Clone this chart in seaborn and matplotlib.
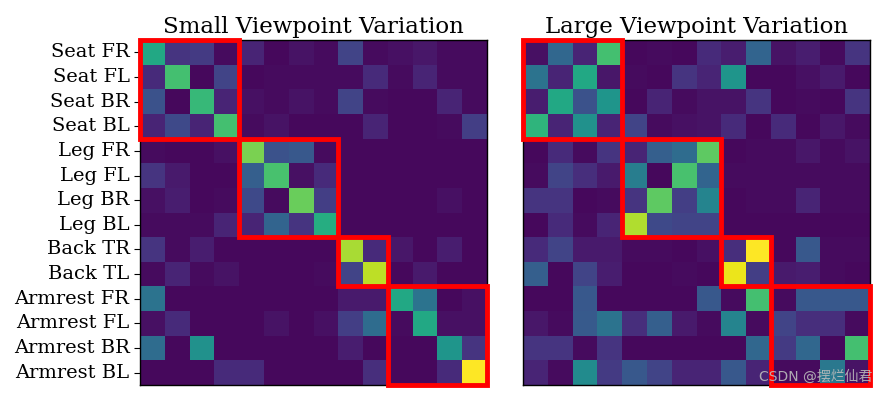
import numpy as np
import pandas as pd
import seaborn as sns
import matplotlib
matplotlib.use("Agg")
import matplotlib.pyplot as plt
from matplotlib.patches import Rectangle

labels = ["Seat FR", "Seat FL", "Seat BR", "Seat BL",
          "Leg FR", "Leg FL", "Leg BR", "Leg BL",
          "Back TR", "Back TL",
          "Armrest FR", "Armrest FL", "Armrest BR", "Armrest BL"]

titles = ["Small Viewpoint Variation", "Large Viewpoint Variation"]

# block sizes of the red boxes (start, size)
blocks = [(0, 4), (4, 4), (8, 2), (10, 4)]

small_vals = [
    [0.60, 0.15, 0.17, 0.03, 0.10, 0.02, 0.05, 0.03, 0.20, 0.03, 0.04, 0.06, 0.03, 0.03],
    [0.12, 0.70, 0.02, 0.20, 0.02, 0.03, 0.03, 0.03, 0.03, 0.12, 0.03, 0.10, 0.03, 0.03],
    [0.25, 0.02, 0.67, 0.10, 0.04, 0.03, 0.05, 0.03, 0.20, 0.03, 0.02, 0.02, 0.10, 0.03],
    [0.10, 0.22, 0.10, 0.70, 0.03, 0.05, 0.02, 0.02, 0.02, 0.10, 0.02, 0.02, 0.03, 0.18],
    [0.03, 0.02, 0.02, 0.04, 0.80, 0.25, 0.27, 0.03, 0.02, 0.02, 0.02, 0.02, 0.02, 0.02],
    [0.15, 0.07, 0.02, 0.02, 0.30, 0.71, 0.04, 0.12, 0.02, 0.02, 0.02, 0.02, 0.02, 0.02],
    [0.04, 0.08, 0.02, 0.03, 0.22, 0.03, 0.77, 0.18, 0.02, 0.02, 0.02, 0.02, 0.04, 0.02],
    [0.03, 0.03, 0.03, 0.10, 0.10, 0.32, 0.15, 0.62, 0.02, 0.02, 0.02, 0.02, 0.02, 0.02],
    [0.15, 0.03, 0.08, 0.02, 0.02, 0.02, 0.02, 0.02, 0.87, 0.12, 0.06, 0.02, 0.08, 0.02],
    [0.03, 0.10, 0.03, 0.05, 0.02, 0.02, 0.02, 0.03, 0.20, 0.90, 0.02, 0.07, 0.02, 0.02],
    [0.38, 0.02, 0.02, 0.02, 0.02, 0.02, 0.02, 0.02, 0.07, 0.07, 0.60, 0.38, 0.02, 0.04],
    [0.04, 0.12, 0.02, 0.02, 0.02, 0.05, 0.02, 0.04, 0.18, 0.35, 0.03, 0.60, 0.04, 0.04],
    [0.35, 0.02, 0.50, 0.02, 0.02, 0.02, 0.02, 0.02, 0.08, 0.02, 0.02, 0.02, 0.52, 0.15],
    [0.02, 0.02, 0.02, 0.12, 0.12, 0.02, 0.02, 0.02, 0.02, 0.13, 0.02, 0.02, 0.12, 1.00],
]

large_vals = [
    [0.04, 0.33, 0.10, 0.70, 0.02, 0.03, 0.02, 0.12, 0.08, 0.32, 0.05, 0.08, 0.03, 0.15],
    [0.38, 0.10, 0.60, 0.06, 0.03, 0.02, 0.15, 0.10, 0.52, 0.02, 0.02, 0.04, 0.07, 0.02],
    [0.08, 0.60, 0.25, 0.52, 0.02, 0.10, 0.03, 0.05, 0.05, 0.15, 0.02, 0.03, 0.02, 0.15],
    [0.65, 0.10, 0.50, 0.10, 0.20, 0.03, 0.04, 0.05, 0.12, 0.02, 0.12, 0.02, 0.06, 0.03],
    [0.02, 0.12, 0.03, 0.15, 0.10, 0.30, 0.35, 0.75, 0.02, 0.03, 0.03, 0.06, 0.03, 0.05],
    [0.03, 0.20, 0.13, 0.07, 0.42, 0.02, 0.71, 0.32, 0.03, 0.03, 0.03, 0.03, 0.03, 0.03],
    [0.15, 0.15, 0.02, 0.03, 0.15, 0.75, 0.18, 0.45, 0.02, 0.03, 0.03, 0.10, 0.03, 0.03],
    [0.02, 0.12, 0.03, 0.10, 0.88, 0.22, 0.20, 0.20, 0.02, 0.02, 0.02, 0.02, 0.02, 0.02],
    [0.12, 0.20, 0.07, 0.07, 0.03, 0.03, 0.02, 0.04, 0.13, 1.00, 0.02, 0.27, 0.03, 0.03],
    [0.30, 0.02, 0.20, 0.08, 0.02, 0.02, 0.03, 0.02, 0.97, 0.18, 0.07, 0.08, 0.03, 0.02],
    [0.02, 0.02, 0.27, 0.02, 0.02, 0.02, 0.02, 0.27, 0.03, 0.70, 0.03, 0.27, 0.27, 0.27],
    [0.06, 0.03, 0.28, 0.38, 0.13, 0.30, 0.07, 0.03, 0.45, 0.03, 0.20, 0.13, 0.13, 0.03],
    [0.15, 0.15, 0.03, 0.15, 0.02, 0.02, 0.02, 0.02, 0.02, 0.33, 0.17, 0.33, 0.02, 0.70],
    [0.10, 0.03, 0.48, 0.17, 0.27, 0.20, 0.10, 0.10, 0.27, 0.10, 0.03, 0.03, 0.40, 0.05],
]

plt.rcParams['font.family'] = ['DejaVu Serif', 'Noto Sans CJK SC']

fig = plt.figure(figsize=(8.77, 3.98), dpi=100)
W, H = 877, 398
ax1 = fig.add_axes([140 / W, 1 - 385 / H, 347 / W, 345 / H])
ax2 = fig.add_axes([523 / W, 1 - 385 / H, 347 / W, 345 / H])

for ax, vals, title in [(ax1, small_vals, titles[0]), (ax2, large_vals, titles[1])]:
    df = pd.DataFrame(vals, index=labels, columns=labels)
    sns.heatmap(df, ax=ax, cmap="viridis", vmin=0, vmax=1, cbar=False,
                xticklabels=False, yticklabels=(ax is ax1))
    for s in ax.spines.values():
        s.set_visible(True)
        s.set_color("black")
        s.set_linewidth(1.0)
    ax.set_title(title, fontsize=16.5, pad=5)
    ax.set_xticks([])
    if ax is ax1:
        ax.tick_params(axis='y', length=4, labelsize=14, rotation=0)
    else:
        ax.set_yticks([])
    for start, size in blocks:
        ax.add_patch(Rectangle((start, start), size, size, fill=False,
                               edgecolor="red", linewidth=3.5, clip_on=False, zorder=5))

fig.text(0.995, 0.035, "CSDN @摆烂仙君", ha="right", va="bottom", fontsize=10,
         color="#bbbbbb", alpha=0.9, family=['DejaVu Sans', 'Noto Sans CJK SC'])

fig.savefig("out.png", dpi=100)
